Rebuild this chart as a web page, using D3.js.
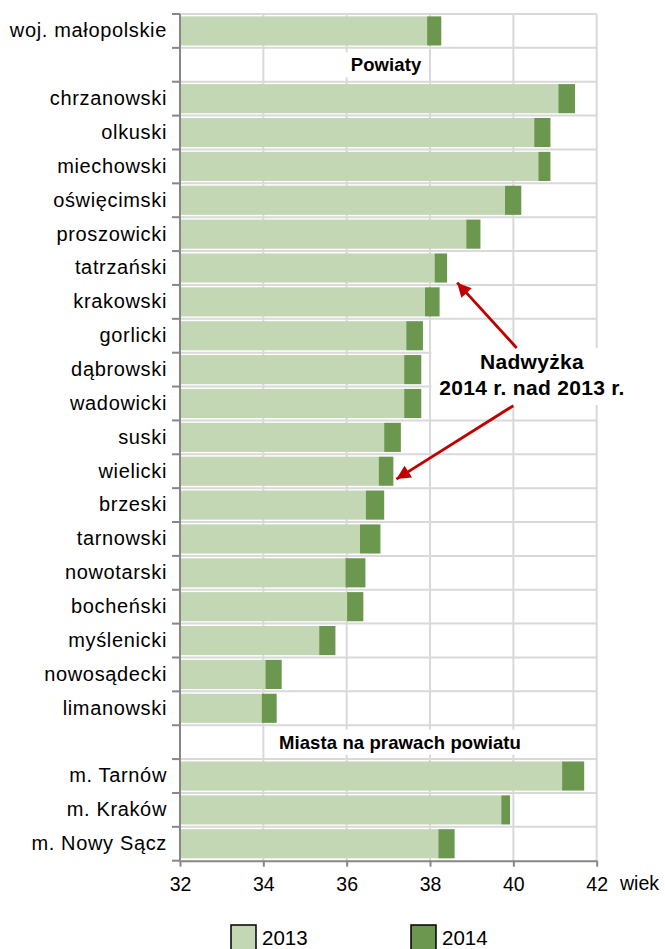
<!DOCTYPE html>
<html>
<head>
<meta charset="utf-8">
<script src="https://cdn.jsdelivr.net/npm/d3@7"></script>
<style>
  body { margin: 0; background: #fff; }
  svg { display: block; font-family: "Liberation Sans", Arial, sans-serif; }
</style>
</head>
<body>
<div id="chart"></div>
<script>
// categories (section headers have no values)
var categories = [
  "woj. małopolskie", "Powiaty",
  "chrzanowski", "olkuski", "miechowski", "oświęcimski", "proszowicki",
  "tatrzański", "krakowski", "gorlicki", "dąbrowski", "wadowicki", "suski",
  "wielicki", "brzeski", "tarnowski", "nowotarski", "bocheński", "myślenicki",
  "nowosądecki", "limanowski",
  "Miasta na prawach powiatu",
  "m. Tarnów", "m. Kraków", "m. Nowy Sącz"
];
var sectionHeaders = ["Powiaty", "Miasta na prawach powiatu"];

// median age
var age2013 = [37.93, null,
  41.08, 40.50, 40.60, 39.80, 38.87, 38.11, 37.88, 37.43, 37.38, 37.38, 36.90,
  36.77, 36.46, 36.32, 35.97, 36.01, 35.34, 34.05, 33.96,
  null,
  41.17, 39.71, 38.20];
var age2014 = [38.27, null,
  41.48, 40.89, 40.89, 40.19, 39.21, 38.41, 38.23, 37.83, 37.79, 37.79, 37.30,
  37.12, 36.90, 36.81, 36.45, 36.40, 35.73, 34.44, 34.32,
  null,
  41.70, 39.92, 38.59];

var xTicks = [32, 34, 36, 38, 40, 42];
var seriesNames = ["2013", "2014"];
var annotationLines = ["Nadwyżka", "2014 r. nad 2013 r."];
var annotationTargets = ["tatrzański", "wielicki"];

var width = 665, height = 949;
var colorLight = "#c4d7b4", colorDark = "#6b974f";
var gridColor = "#d9d9d9", axisColor = "#878787";

var svg = d3.select("#chart").append("svg")
  .attr("width", width)
  .attr("height", height);

var x = d3.scaleLinear().domain([32, 42]).range([180, 596.7]);
var y = d3.scaleBand().domain(categories).range([14, 860.7])
  .paddingInner(0.14).paddingOuter(0.07);
var step = y.step();
function bandTop(c) { return y(c) - step * 0.07; }
var boundaries = categories.map(bandTop).concat([bandTop(categories[categories.length - 1]) + step]);

// gridlines
svg.append("g").selectAll("line.v")
  .data(xTicks.slice(1))
  .enter().append("line")
  .attr("x1", function(d) { return x(d); })
  .attr("x2", function(d) { return x(d); })
  .attr("y1", 14).attr("y2", 860.7)
  .attr("stroke", gridColor).attr("stroke-width", 2);

svg.append("g").selectAll("line.h")
  .data(boundaries.slice(0, -1))
  .enter().append("line")
  .attr("x1", 180).attr("x2", x(42))
  .attr("y1", function(d) { return d; })
  .attr("y2", function(d) { return d; })
  .attr("stroke", gridColor).attr("stroke-width", 2);

// bars
var rows = categories.map(function(c, i) {
  return { name: c, a: age2013[i], b: age2014[i] };
}).filter(function(d) { return d.a != null; });

svg.append("g").selectAll("rect")
  .data(rows)
  .enter().append("rect")
  .attr("x", x(32))
  .attr("y", function(d) { return y(d.name); })
  .attr("width", function(d) { return x(d.a) - x(32); })
  .attr("height", y.bandwidth())
  .attr("fill", colorLight);

svg.append("g").selectAll("rect")
  .data(rows)
  .enter().append("rect")
  .attr("x", function(d) { return x(d.a); })
  .attr("y", function(d) { return y(d.name); })
  .attr("width", function(d) { return x(d.b) - x(d.a); })
  .attr("height", y.bandwidth())
  .attr("fill", colorDark);

// section headers with white boxes
sectionHeaders.forEach(function(h) {
  var g = svg.append("g");
  var cx = h === "Powiaty" ? 386 : 400;
  var t = g.append("text")
    .attr("x", cx)
    .attr("y", y(h) + y.bandwidth() / 2 + 6.5)
    .attr("text-anchor", "middle")
    .attr("font-weight", "bold")
    .attr("font-size", "18.5px")
    .attr("letter-spacing", "0.1px")
    .text(h);
  var bb = t.node().getBBox();
  g.insert("rect", "text")
    .attr("x", bb.x - 7).attr("y", bb.y - 2)
    .attr("width", bb.width + 14).attr("height", bb.height + 4)
    .attr("fill", "#fff");
});

// left axis
var yAxis = svg.append("g")
  .attr("transform", "translate(180,0)")
  .call(d3.axisLeft(y).tickSize(0).tickPadding(13)
    .tickFormat(function(d) { return sectionHeaders.indexOf(d) >= 0 ? "" : d; }));
yAxis.select(".domain").remove();
yAxis.selectAll("text").attr("font-size", "20px").attr("fill", "#000")
  .attr("letter-spacing", "0.65px")
  .attr("font-family", "Liberation Sans, Arial, sans-serif");

svg.append("g").selectAll("line")
  .data(boundaries)
  .enter().append("line")
  .attr("x1", 172).attr("x2", 180)
  .attr("y1", function(d) { return d; })
  .attr("y2", function(d) { return d; })
  .attr("stroke", axisColor).attr("stroke-width", 2);
svg.append("line")
  .attr("x1", 180).attr("x2", 180)
  .attr("y1", 14).attr("y2", 860.7)
  .attr("stroke", axisColor).attr("stroke-width", 2);

// bottom axis
var xAxis = svg.append("g")
  .attr("transform", "translate(0,860.7)")
  .call(d3.axisBottom(x).tickValues(xTicks).tickSize(6).tickPadding(10).tickSizeOuter(0));
xAxis.select(".domain").attr("stroke", axisColor).attr("stroke-width", 2);
xAxis.selectAll(".tick line").attr("stroke", axisColor).attr("stroke-width", 2);
xAxis.selectAll("text").attr("font-size", "19.5px").attr("fill", "#000")
  .attr("font-family", "Liberation Sans, Arial, sans-serif");

svg.append("text")
  .attr("x", 620).attr("y", 890)
  .attr("font-size", "19.5px")
  .text("wiek");

// annotation
var ann = svg.append("g");
var annText = ann.append("text")
  .attr("text-anchor", "middle")
  .attr("font-weight", "bold")
  .attr("font-size", "21px")
  .attr("letter-spacing", "0.3px");
annText.selectAll("tspan")
  .data(annotationLines)
  .enter().append("tspan")
  .attr("x", 532)
  .attr("y", function(d, i) { return 369 + i * 26; })
  .text(function(d) { return d; });
var abb = annText.node().getBBox();
var boxLeft = x(38) + 1.5;
ann.insert("rect", "text")
  .attr("x", boxLeft).attr("y", abb.y - 2)
  .attr("width", abb.x + abb.width + 12 - boxLeft).attr("height", abb.height + 8)
  .attr("fill", "#fff");

svg.append("defs").append("marker")
  .attr("id", "head")
  .attr("viewBox", "0 0 10 10")
  .attr("refX", 10).attr("refY", 5)
  .attr("markerUnits", "userSpaceOnUse")
  .attr("markerWidth", 16).attr("markerHeight", 14)
  .attr("orient", "auto")
  .append("path").attr("d", "M0,0L10,5L0,10z").attr("fill", "#c00000");

var arrowStarts = [[516.7, 348], [513.3, 405.7]];
annotationTargets.forEach(function(name, i) {
  var idx = categories.indexOf(name);
  var tipX = x(age2014[idx]) + (i === 0 ? 6 : -2);
  var tipY = y(name) + y.bandwidth() * (i === 0 ? 0.85 : 0.88);
  var sx = arrowStarts[i][0], sy = arrowStarts[i][1];
  var dx = tipX - sx, dy = tipY - sy, len = Math.sqrt(dx * dx + dy * dy);
  svg.append("line")
    .attr("x1", sx).attr("y1", sy)
    .attr("x2", tipX - dx / len * 6).attr("y2", tipY - dy / len * 6)
    .attr("stroke", "#c00000").attr("stroke-width", 2.8)
    .attr("marker-end", "url(#head)");
});

// legend
var legend = svg.append("g").selectAll("g")
  .data(seriesNames)
  .enter().append("g")
  .attr("transform", function(d, i) { return "translate(" + (231 + i * 180) + ",925)"; });
legend.append("rect")
  .attr("width", 25).attr("height", 26)
  .attr("fill", function(d, i) { return i === 0 ? colorLight : colorDark; })
  .attr("stroke", "#000").attr("stroke-width", 1.5);
legend.append("text")
  .attr("x", 31).attr("y", 20)
  .attr("font-size", "20.5px")
  .text(function(d) { return d; });
</script>
</body>
</html>
